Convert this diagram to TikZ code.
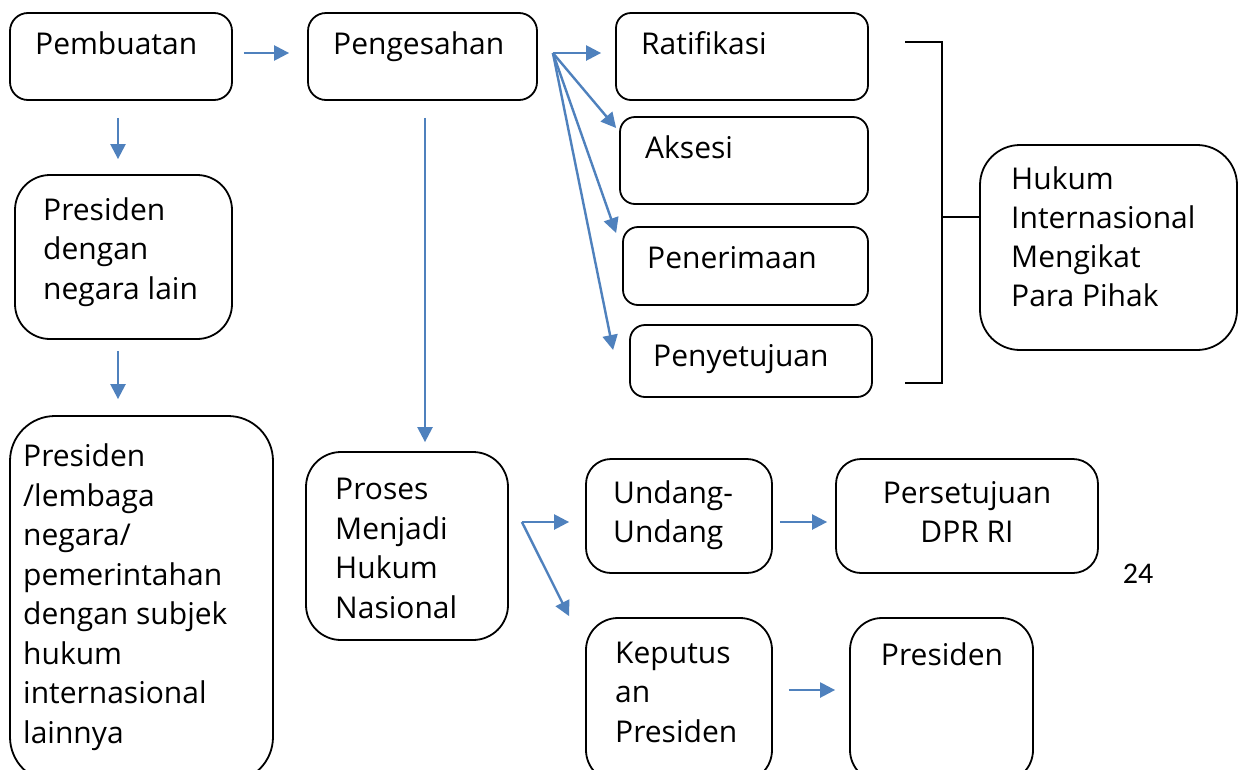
\documentclass[tikz,border=0pt]{standalone}
\usepackage{fontspec}
\setmainfont{Open Sans}
\newfontfamily\numfont{Carlito}
\usetikzlibrary{arrows.meta}
\definecolor{arrblue}{HTML}{4F81BD}
\tikzset{
  box/.style={draw=black, line width=1.8pt, fill=none, inner sep=0pt},
  txt/.style={inner sep=0pt, align=left, font=\fontsize{30}{39.5}\selectfont, anchor=base west},
  ctxt/.style={inner sep=0pt, align=center, font=\fontsize{30}{39.5}\selectfont, anchor=base},
  arr/.style={draw=arrblue, line width=2.4pt, -{Triangle[length=15pt,width=15pt]}},
  brk/.style={draw=black, line width=1.8pt}
}
\begin{document}
\begin{tikzpicture}[x=1pt,y=-1pt]
\useasboundingbox (0,0) rectangle (1244,769);
\fill[white] (0,0) rectangle (1244,769);
\begin{scope}
\clip (0,0) rectangle (1244,769);
% boxes
\node[box, rounded corners=18pt, minimum width=222pt, minimum height=87pt] (pemb) at (121,56.5) {};
\node[box, rounded corners=18pt, minimum width=229pt, minimum height=87pt] (peng) at (422.5,56.5) {};
\node[box, rounded corners=35pt, minimum width=217pt, minimum height=164pt] (pres1) at (123.5,257) {};
\node[box, rounded corners=45pt, minimum width=263pt, minimum height=366pt] (big) at (141.5,599) {};
\node[box, rounded corners=35pt, minimum width=202pt, minimum height=188pt] (proses) at (407,546) {};
\node[box, rounded corners=25pt, minimum width=186pt, minimum height=114pt] (uu) at (679,516) {};
\node[box, rounded corners=25pt, minimum width=262pt, minimum height=114pt] (dpr) at (967,516) {};
\node[box, rounded corners=32pt, minimum width=186pt, minimum height=164pt] (kep) at (679,700) {};
\node[box, rounded corners=32pt, minimum width=183pt, minimum height=164pt] (pres2) at (941.5,700) {};
\node[box, rounded corners=15pt, minimum width=252pt, minimum height=87pt] (rat) at (742,56.5) {};
\node[box, rounded corners=15pt, minimum width=248pt, minimum height=87pt] (aks) at (744,160.5) {};
\node[box, rounded corners=15pt, minimum width=245pt, minimum height=78pt] (pen) at (745.5,266) {};
\node[box, rounded corners=15pt, minimum width=242pt, minimum height=72pt] (peny) at (751,361) {};
\node[box, rounded corners=40pt, minimum width=257pt, minimum height=205pt] (huk) at (1108.5,247.5) {};
% texts (base anchor = baseline of the last line)
\node[txt] (tpemb) at (35,54) {Pembuatan};
\node[txt] (tpeng) at (333,54) {Pengesahan};
\node[txt] (tpres1) at (43,299) {Presiden\\dengan\\negara lain};
\node[txt] (tbig) at (23,743) {Presiden\\/lembaga\\negara/\\pemerintahan\\dengan subjek\\hukum\\internasional\\lainnya};
\node[txt] (tproses) at (335,618) {Proses\\Menjadi\\Hukum\\Nasional};
\node[txt] (tuu) at (613,542.5) {Undang-\\Undang};
\node[ctxt] (tdpr) at (967,542.5) {Persetujuan\\DPR RI};
\node[txt] (tkep) at (615,742) {Keputus\\an\\Presiden};
\node[ctxt] (tpres2) at (942,665) {Presiden};
\node[txt] (trat) at (641,54) {Ratifikasi};
\node[txt] (taks) at (645,158) {Aksesi};
\node[txt] (tpen) at (647,268) {Penerimaan};
\node[txt] (tpeny) at (653,366) {Penyetujuan};
\node[txt, font=\fontsize{30}{38.7}\selectfont] (thuk) at (1011,306) {Hukum\\Internasional\\Mengikat\\Para Pihak};
\node[inner sep=0pt, anchor=base, font=\numfont\fontsize{30}{34}\selectfont] (num) at (1138,583) {24};
% arrows
\draw[arr] ([xshift=11pt,yshift=3.5pt]pemb.east) -- ([xshift=-18pt,yshift=3.5pt]peng.west);
\draw[arr] ([xshift=-3pt,yshift=-17pt]pemb.south) -- ([xshift=-5.5pt,yshift=15pt]pres1.north);
\draw[arr] ([xshift=-5.5pt,yshift=-11pt]pres1.south) -- ([xshift=-23.5pt,yshift=16pt]big.north);
\draw[arr] ([xshift=2.5pt,yshift=-17pt]peng.south) -- ([xshift=18pt,yshift=9pt]proses.north);
\coordinate (ps) at ([xshift=15pt,yshift=3.5pt]peng.east);
\draw[arr] (ps) -- ([xshift=-14pt,yshift=3.5pt]rat.west);
\draw[arr] (ps) -- ([xshift=-3pt,yshift=32.5pt]aks.west);
\draw[arr] (ps) -- ([xshift=-6pt,yshift=33pt]pen.west);
\draw[arr] (ps) -- ([xshift=-16pt,yshift=11pt]peny.west);
\coordinate (pp) at ([xshift=13pt,yshift=24pt]proses.east);
\draw[arr] (pp) -- ([xshift=-16pt,yshift=-6pt]uu.west);
\draw[arr] (pp) -- ([xshift=-16pt,yshift=1pt]kep.north west);
\draw[arr] ([xshift=7pt,yshift=-6pt]uu.east) -- ([xshift=-8pt,yshift=-6pt]dpr.west);
\draw[arr] ([xshift=16pt,yshift=10pt]kep.east) -- ([xshift=-14pt,yshift=10pt]pres2.west);
% bracket
\coordinate (bt) at (905,42);
\coordinate (bb) at (905,383);
\coordinate (bm) at (942,217);
\draw[brk] (bt) -- (942,42) -- (942,383) -- (bb);
\draw[brk] (bm) -- (bm -| huk.west);
\end{scope}
\end{tikzpicture}
\end{document}
